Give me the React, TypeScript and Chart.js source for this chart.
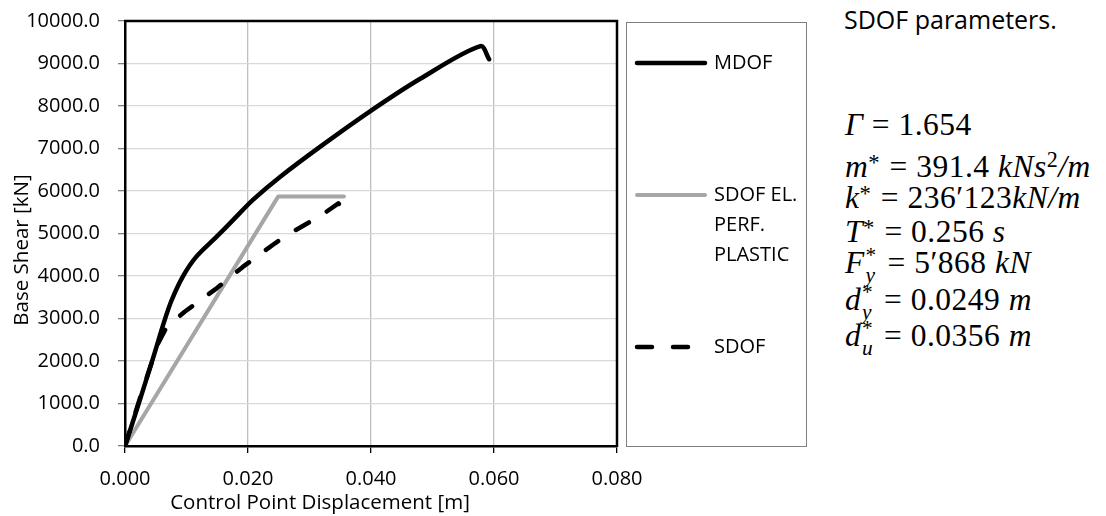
import React, { useEffect, useRef } from "react";
import { Chart, registerables } from "chart.js";

Chart.register(...registerables);

// ---- data ----
const mdofX = [0, 0.0025, 0.0048, 0.0062, 0.0075, 0.0094, 0.0116, 0.0149, 0.0176, 0.0208, 0.0252, 0.0322, 0.0399, 0.048, 0.0578, 0.0592];
const mdofY = [0, 1120, 2180, 2850, 3400, 3985, 4455, 4925, 5320, 5790, 6330, 7090, 7880, 8640, 9410, 9100];

const eppX = [0, 0.0249, 0.0356];
const eppY = [0, 5868, 5868];

const sdofX = [0, 0.0027, 0.0054, 0.0067, 0.0097, 0.0149, 0.0192, 0.0244, 0.0268, 0.032, 0.0347, 0.0358];
const sdofY = [0, 1250, 2420, 2780, 3160, 3710, 4220, 4770, 5000, 5435, 5710, 5510];

const seriesLabels = ["MDOF", "SDOF EL. PERF. PLASTIC", "SDOF"];

const xTickValues = [0, 0.02, 0.04, 0.06, 0.08];
const xTickLabels = ["0.000", "0.020", "0.040", "0.060", "0.080"];
const yTickValues = [0, 1000, 2000, 3000, 4000, 5000, 6000, 7000, 8000, 9000, 10000];
const yTickLabels = ["0.0", "1000.0", "2000.0", "3000.0", "4000.0", "5000.0", "6000.0", "7000.0", "8000.0", "9000.0", "10000.0"];

const xTitle = "Control Point Displacement [m]";
const yTitle = "Base Shear [kN]";
const paramsTitle = "SDOF parameters.";

const FONT = '"Open Sans", sans-serif';
const MATH = '"Liberation Serif", "DejaVu Serif", serif';

const toPts = (xs: number[], ys: number[]) => xs.map((x, i) => ({ x, y: ys[i] }));

const decorPlugin = {
  id: "decor",
  afterDraw(chart: any) {
    const { ctx, chartArea } = chart;
    const { left, right, top, bottom } = chartArea;
    ctx.save();
    // plot frame top & right
    ctx.strokeStyle = "#000";
    ctx.lineWidth = 2.5;
    ctx.beginPath();
    ctx.moveTo(left - 1, top);
    ctx.lineTo(right, top);
    ctx.lineTo(right, bottom + 1);
    ctx.stroke();

    // legend box
    const bx = right + 9;
    const bw = 180;
    ctx.strokeStyle = "#7f7f7f";
    ctx.lineWidth = 1;
    ctx.strokeRect(Math.round(bx) + 0.5, top + 1.5, bw, bottom - top - 1);

    const entryY = [63, 195, 347];
    const lineX0 = bx + 9;
    const lineX1 = bx + 81;
    const textX = bx + 88;
    ctx.font = `20px ${FONT}`;
    ctx.textBaseline = "middle";
    ctx.textAlign = "left";
    chart.data.datasets.forEach((ds: any, i: number) => {
      const y = entryY[i];
      ctx.save();
      ctx.strokeStyle = ds.borderColor;
      ctx.lineWidth = ds.borderWidth;
      ctx.lineCap = ds.borderCapStyle || "round";
      ctx.setLineDash(ds.borderDash || []);
      ctx.beginPath();
      ctx.moveTo(lineX0 + 2, y);
      ctx.lineTo(lineX1 - 2, y);
      ctx.stroke();
      ctx.restore();
      // wrap label
      const words = String(ds.label).split(" ");
      const lines: string[] = [];
      let cur = "";
      words.forEach((w) => {
        const t = cur ? cur + " " + w : w;
        if (cur && ctx.measureText(t).width > 88) {
          lines.push(cur);
          cur = w;
        } else cur = t;
      });
      if (cur) lines.push(cur);
      ctx.fillStyle = "#000";
      lines.forEach((l, k) => ctx.fillText(l, textX, y + k * 30));
    });

    // axis titles
    ctx.fillStyle = "#000";
    ctx.font = `20.5px ${FONT}`;
    ctx.textAlign = "center";
    ctx.textBaseline = "middle";
    ctx.fillText(xTitle, 320, 503);
    ctx.save();
    ctx.translate(22, 250);
    ctx.rotate(-Math.PI / 2);
    ctx.fillText(yTitle, 0, 0);
    ctx.restore();
    ctx.restore();
  },
};

function SS({ sup, sub }: { sup: string; sub: string }) {
  return (
    <span
      style={{
        display: "inline-block",
        verticalAlign: "-0.42em",
        fontSize: "0.68em",
        lineHeight: "0.95em",
        marginLeft: "0.03em",
        marginRight: "0.12em",
      }}
    >
      <span style={{ display: "block", fontStyle: "normal" }}>{sup}</span>
      <span style={{ display: "block", fontStyle: "italic" }}>{sub}</span>
    </span>
  );
}

function Star() {
  return (
    <span style={{ fontSize: "0.72em", verticalAlign: "0.3em", marginRight: "0.05em" }}>*</span>
  );
}

export default function App() {
  const ref = useRef<HTMLCanvasElement | null>(null);

  useEffect(() => {
    if (!ref.current) return;
    const chart = new Chart(ref.current, {
      type: "line",
      data: {
        datasets: [
          {
            label: seriesLabels[0],
            data: toPts(mdofX, mdofY),
            borderColor: "#000000",
            borderWidth: 4.5,
            pointRadius: 0,
            tension: 0.3,
            fill: false,
            borderJoinStyle: "round",
            borderCapStyle: "round",
            order: 0,
          },
          {
            label: seriesLabels[1],
            data: toPts(eppX, eppY),
            borderColor: "#a6a6a6",
            borderWidth: 4,
            pointRadius: 0,
            tension: 0,
            fill: false,
            borderJoinStyle: "round",
            borderCapStyle: "round",
            order: 2,
          },
          {
            label: seriesLabels[2],
            data: toPts(sdofX, sdofY),
            borderColor: "#000000",
            borderWidth: 4.5,
            borderDash: [15, 21],
            pointRadius: 0,
            tension: 0,
            fill: false,
            borderJoinStyle: "round",
            borderCapStyle: "round",
            order: 1,
          },
        ],
      },
      options: {
        animation: false,
        responsive: false,
        maintainAspectRatio: false,
        layout: { padding: { left: 0, right: 213, top: 21, bottom: 0 } },
        plugins: { legend: { display: false }, tooltip: { enabled: false } },
        scales: {
          x: {
            type: "linear",
            min: 0,
            max: 0.08,
            afterBuildTicks: (s: any) => {
              s.ticks = xTickValues.map((v) => ({ value: v }));
            },
            afterFit: (s: any) => {
              s.height = 70;
            },
            ticks: {
              callback: (_v: any, i: number) => xTickLabels[i],
              font: { family: FONT, size: 20 },
              color: "#000",
              padding: 14,
              maxRotation: 0,
              autoSkip: false,
            },
            grid: { color: "#bfbfbf", lineWidth: 1.3, tickColor: "#000", tickLength: 7 },
            border: { color: "#000", width: 2.5 },
          },
          y: {
            type: "linear",
            min: 0,
            max: 10000,
            afterBuildTicks: (s: any) => {
              s.ticks = yTickValues.map((v) => ({ value: v }));
            },
            afterFit: (s: any) => {
              s.width = 125;
              s.paddingTop = 0;
              s.paddingBottom = 0;
            },
            ticks: {
              callback: (_v: any, i: number) => yTickLabels[i],
              font: { family: FONT, size: 20 },
              color: "#000",
              padding: 18,
              autoSkip: false,
            },
            grid: { color: "#d9d9d9", lineWidth: 1.3, tickColor: "#808080", tickLength: 7 },
            border: { color: "#000", width: 2.5 },
          },
        },
      },
      plugins: [decorPlugin],
    } as any);
    return () => chart.destroy();
  }, []);

  const lineStyle = (baseline: number): React.CSSProperties => ({
    position: "absolute",
    left: 0,
    top: baseline - 29,
    whiteSpace: "nowrap",
    height: 36,
    lineHeight: "36px",
  });

  return (
    <div style={{ position: "absolute", left: 0, top: 0, width: 1106, height: 516, background: "#fff", overflow: "hidden" }}>
      <canvas ref={ref} width={830} height={516} style={{ position: "absolute", left: 0, top: 0, width: 830, height: 516 }} />
      <div style={{ position: "absolute", left: 844, top: 2, fontFamily: FONT, fontSize: 25, whiteSpace: "nowrap", lineHeight: "34px" }}>
        {paramsTitle}
      </div>
      <div style={{ position: "absolute", left: 845, top: 0, fontFamily: MATH, fontSize: 31.5, color: "#000", letterSpacing: "0.5px" }}>
        <div style={lineStyle(136)}>
          <i>Γ</i> = 1.654
        </div>
        <div style={lineStyle(171)}>
          <i>m</i>
          <Star /> = 391.4 <i>kNs</i>
          <span style={{ fontSize: "0.7em", verticalAlign: "0.45em" }}>2</span>
          <i>/m</i>
        </div>
        <div style={lineStyle(205)}>
          <i>k</i>
          <Star /> = 236′123<i>kN/m</i>
        </div>
        <div style={lineStyle(239)}>
          <i>T</i>
          <Star /> = 0.256 <i>s</i>
        </div>
        <div style={lineStyle(274)}>
          <i>F</i>
          <SS sup="*" sub="y" /> = 5′868 <i>kN</i>
        </div>
        <div style={lineStyle(311)}>
          <i>d</i>
          <SS sup="*" sub="y" /> = 0.0249 <i>m</i>
        </div>
        <div style={lineStyle(347)}>
          <i>d</i>
          <SS sup="*" sub="u" /> = 0.0356 <i>m</i>
        </div>
      </div>
    </div>
  );
}
